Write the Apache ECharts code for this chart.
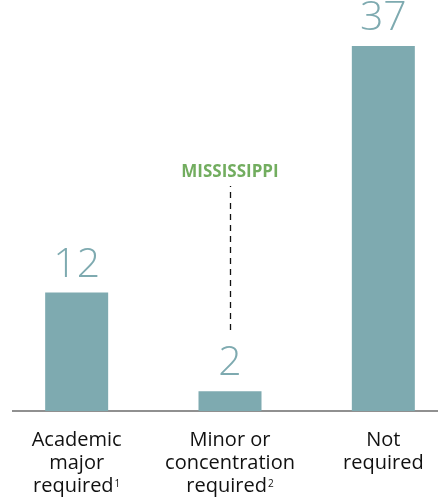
<!DOCTYPE html>
<html>
<head>
<meta charset="utf-8">
<script src="https://cdn.jsdelivr.net/npm/echarts@6/dist/echarts.min.js"></script>
<style>
  html,body{margin:0;padding:0;background:#fff;}
  #main{width:438px;height:502px;}
</style>
</head>
<body>
<div id="main"></div>
<script>
var categories=['Academic\nmajor\nrequired{sup|1}','Minor or\nconcentration\nrequired{sup|2}','Not\nrequired'];
var values=[12,2,37];
var calloutLabel='MISSISSIPPI';
var calloutRange=[8.2,22.8];

var chart=echarts.init(document.getElementById('main'));

var option={
  animation:false,
  grid:{
    left:0,
    width:460,
    top:46,
    bottom:91,
    outerBoundsMode:'none'
  },
  xAxis:{
    type:'category',
    data:categories,
    axisLine:{show:false},
    axisTick:{show:false},
    axisLabel:{
      interval:0,
      margin:18,
      color:'#111',
      fontFamily:'Open Sans',
      fontSize:20,
      lineHeight:23,
      rich:{
        sup:{fontSize:10,padding:[0,0,5,1],color:'#111'}
      }
    }
  },
  yAxis:{
    type:'value',
    min:0,
    max:37,
    show:false,
    splitLine:{show:false}
  },
  graphic:[{
    type:'line',
    shape:{x1:12,y1:411,x2:438,y2:411},
    style:{stroke:'#222',lineWidth:1.2}
  }],
  series:[{
    type:'bar',
    data:values,
    barWidth:63,
    itemStyle:{color:'#7eaab0'},
    label:{
      show:true,
      position:'top',
      distance:7,
      color:'#7eaab0',
      fontFamily:'Open Sans',
      fontWeight:300,
      fontSize:41
    },
    markLine:{
      silent:true,
      symbol:['none','none'],
      lineStyle:{type:[6,5],color:'#111',width:1.3},
      label:{
        show:true,
        position:'end',
        formatter:calloutLabel,
        color:'#72ad5f',
        fontFamily:'Open Sans',
        fontWeight:'bold',
        fontSize:17,
        distance:5
      },
      data:[[
        {coord:[1,calloutRange[0]]},
        {coord:[1,calloutRange[1]]}
      ]]
    }
  }]
};

chart.setOption(option);
</script>
</body>
</html>
